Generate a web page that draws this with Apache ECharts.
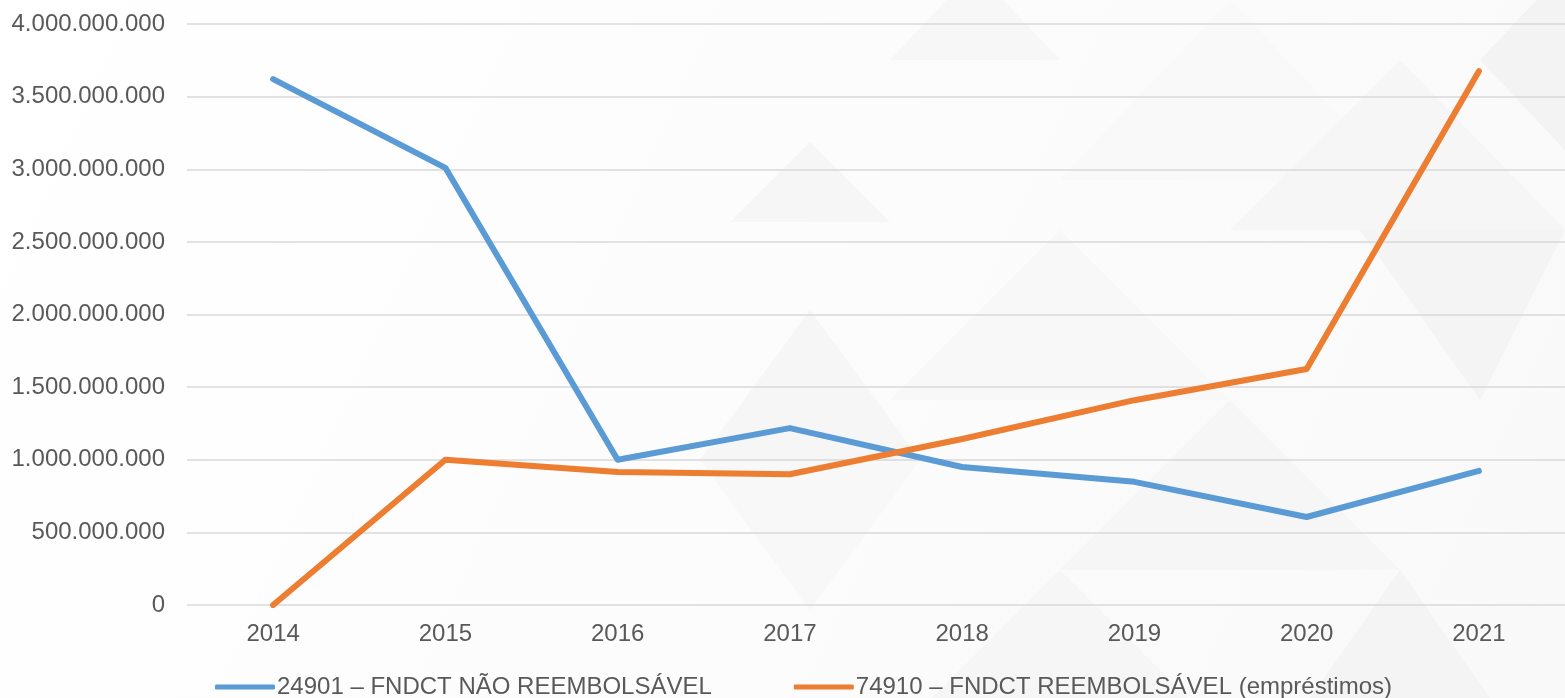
<!DOCTYPE html>
<html>
<head>
<meta charset="utf-8">
<style>
html,body{margin:0;padding:0;background:#fff;}
#chart{width:1565px;height:698px;}
</style>
<script src="https://cdn.jsdelivr.net/npm/echarts@6/dist/echarts.min.js"></script>
</head>
<body>
<div id="chart"></div>
<script>
// anos e valores (R$)
var anos = ['2014', '2015', '2016', '2017', '2018', '2019', '2020', '2021'];
var naoReembolsavel = [3620000000, 3010000000, 1000000000, 1218000000, 950000000, 848000000, 606000000, 923000000];
var reembolsavel = [0, 1000000000, 915000000, 900000000, 1143000000, 1410000000, 1625000000, 3675000000];
var nomes = ['24901 – FNDCT NÃO REEMBOLSÁVEL', '74910 – FNDCT REEMBOLSÁVEL (empréstimos)'];

function fmt(v){
	return String(v).replace(/\B(?=(\d{3})+(?!\d))/g, '.');
}

var chart = echarts.init(document.getElementById('chart'));

// triangulos bem claros do fundo (decoracao)
var tri = function(pts, c){
	return {type:'polygon', silent:true, z:-10, shape:{points:pts}, style:{fill:c}};
};

var option = {
	backgroundColor: {
		type:'linear', x:0, y:0, x2:1, y2:1,
		colorStops:[{offset:0, color:'#ffffff'},{offset:1, color:'#f9f9f9'}]
	},
	textStyle: {fontFamily:'"Liberation Sans", Arial, sans-serif'},
	graphic: [
		tri([[730,222],[810,142],[890,222]], '#f6f6f6'),
		tri([[890,60],[975,-30],[1060,60]], '#f7f7f7'),
		tri([[1060,180],[1230,0],[1400,180]], '#f9f9f9'),
		tri([[1230,230],[1400,60],[1565,230]], '#f6f6f6'),
		tri([[1480,60],[1565,-30],[1565,150]], '#f3f3f3'),
		tri([[1360,230],[1480,400],[1565,230]], '#f4f4f4'),
		tri([[700,460],[810,310],[920,460]], '#f6f6f6'),
		tri([[700,460],[810,610],[920,460]], '#f8f8f8'),
		tri([[890,400],[1060,230],[1230,400]], '#f8f8f8'),
		tri([[1060,570],[1230,400],[1400,570]], '#f6f6f6'),
		tri([[890,740],[1060,570],[1230,740]], '#f6f6f6'),
		tri([[1310,698],[1400,570],[1490,698]], '#f4f4f4')
	],
	grid: {left:187, right:-12, top:24, bottom:93},
	legend: {
		top: 675,
		left: 215,
		padding: 0,
		itemGap: 82,
		itemWidth: 60,
		itemHeight: 5,
		icon: 'roundRect',
		textStyle: {fontSize:24, color:'#595959', padding:[0,0,0,-3]},
		data: nomes
	},
	xAxis: {
		type: 'category',
		data: anos,
		axisLine: {show:false},
		axisTick: {show:false},
		axisLabel: {fontSize:24, color:'#595959', margin:17}
	},
	yAxis: {
		type: 'value',
		min: 0,
		max: 4000000000,
		interval: 500000000,
		axisLabel: {fontSize:24, color:'#595959', margin:22, formatter:fmt},
		splitLine: {lineStyle:{color:'#d9d9d9', width:1.5}}
	},
	series: [{
		name: nomes[0],
		type: 'line',
		data: naoReembolsavel,
		symbol: 'none',
		color: '#5b9bd5',
		lineStyle: {width:6, cap:'round', join:'round'}
	}, {
		name: nomes[1],
		type: 'line',
		data: reembolsavel,
		symbol: 'none',
		color: '#ed7d31',
		lineStyle: {width:6, cap:'round', join:'round'}
	}]
};

chart.setOption(option);
</script>
</body>
</html>
